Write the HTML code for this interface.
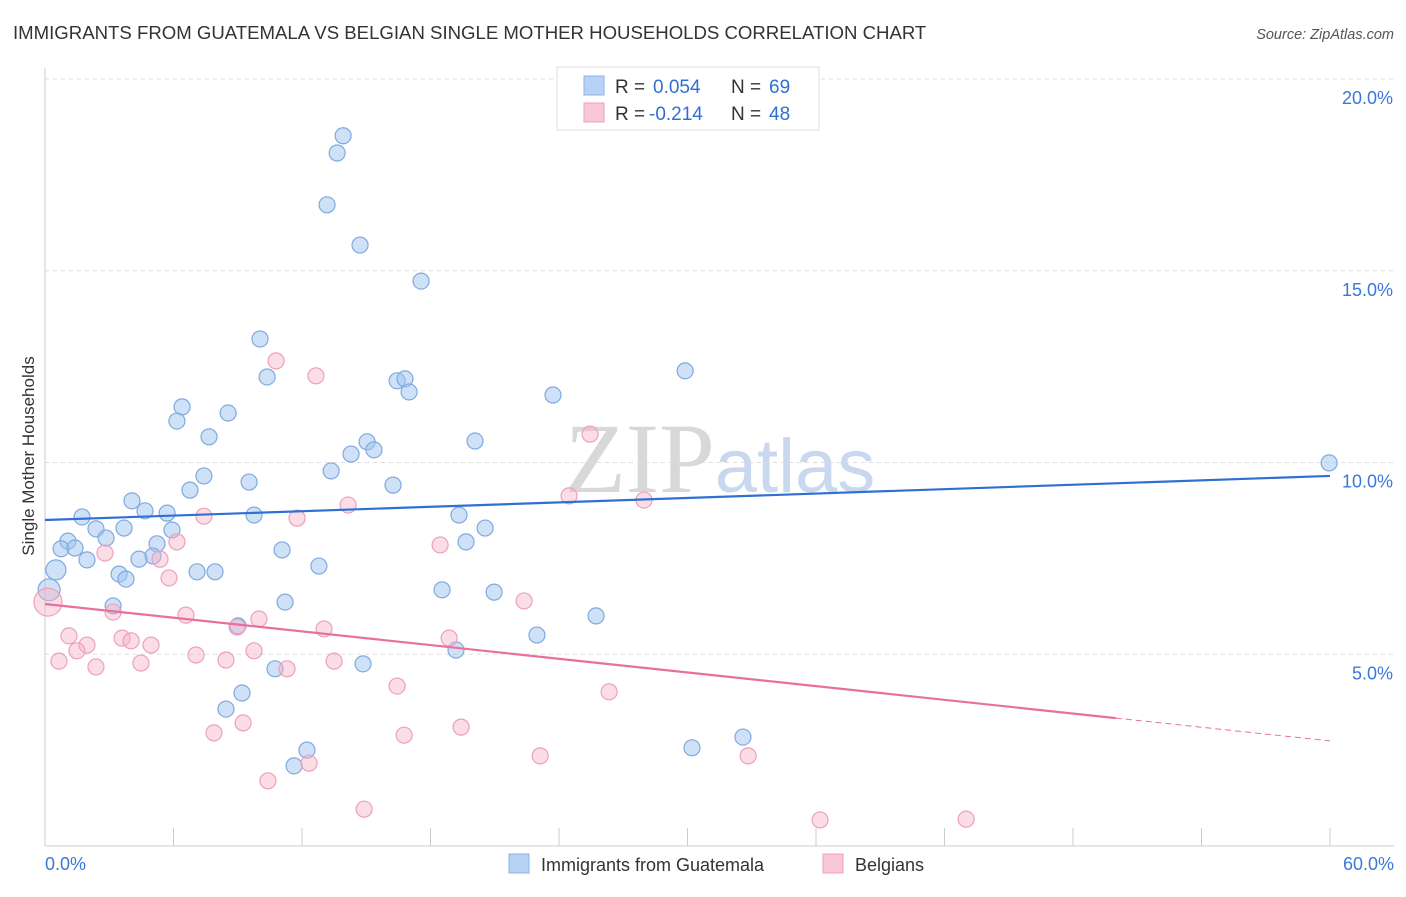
<!DOCTYPE html>
<html><head><meta charset="utf-8"><style>
body{margin:0;background:#fff;font-family:"Liberation Sans",sans-serif}
</style></head><body>
<svg id="chart" width="1406" height="892" xmlns="http://www.w3.org/2000/svg" font-family="Liberation Sans, sans-serif">
<text x="13" y="39" font-size="18.6" fill="#333">IMMIGRANTS FROM GUATEMALA VS BELGIAN SINGLE MOTHER HOUSEHOLDS CORRELATION CHART</text>
<text x="1394" y="39" font-size="14.5" fill="#555" text-anchor="end" font-style="italic">Source: ZipAtlas.com</text>
<text x="720" y="492" font-size="100" text-anchor="middle"><tspan fill="#d8d8d8" font-family="Liberation Serif, serif">ZIP</tspan><tspan fill="#c8d8ee" font-size="76">atlas</tspan></text>
<text transform="translate(34,456) rotate(-90)" font-size="17" fill="#333" text-anchor="middle">Single Mother Households</text>
<g id="grid"></g><g id="axes"></g><g id="marks"></g>
<g>
<rect x="557" y="67" width="262" height="63" fill="#fff" stroke="#ddd"/>
<rect x="584" y="76" width="20" height="19" fill="#b8d2f5" stroke="#8ab4e8"/>
<rect x="584" y="103" width="20" height="19" fill="#f8c8d6" stroke="#f0a0b8"/>
<text x="615" y="93" font-size="19" fill="#333">R =</text>
<text x="653" y="93" font-size="19" fill="#2f6fd6">0.054</text>
<text x="731" y="93" font-size="19" fill="#333">N =</text>
<text x="769" y="93" font-size="19" fill="#2f6fd6">69</text>
<text x="615" y="120" font-size="19" fill="#333">R =</text>
<text x="649" y="120" font-size="19" fill="#2f6fd6">-0.214</text>
<text x="731" y="120" font-size="19" fill="#333">N =</text>
<text x="769" y="120" font-size="19" fill="#2f6fd6">48</text>
</g>
<g>
<rect x="509" y="854" width="20" height="19" fill="#b8d2f5" stroke="#8ab4e8"/>
<text x="541" y="871" font-size="18" fill="#333">Immigrants from Guatemala</text>
<rect x="823" y="854" width="20" height="19" fill="#f8c8d6" stroke="#f0a0b8"/>
<text x="855" y="871" font-size="18" fill="#333">Belgians</text>
</g>
</svg>
<script>
const blueX=[13.64,13.92,13.17,14.71,17.56,10.04,10.37,16.44,16.81,17.00,29.89,23.72,6.40,8.55,6.16,7.66,20.08,15.04,15.36,14.29,13.36,7.42,9.53,16.25,6.77,4.06,4.67,5.70,9.76,19.33,1.73,2.38,3.69,5.93,20.55,2.85,1.07,5.23,19.66,0.75,1.40,11.07,5.04,4.39,1.96,12.79,0.51,3.46,7.10,7.94,3.78,18.54,20.97,0.19,3.18,11.21,25.73,9.01,22.97,19.19,14.85,10.74,9.20,8.45,12.23,30.21,32.59,11.63,59.96];
const blueY=[18.07,18.52,16.72,15.67,14.73,13.22,12.23,12.13,12.18,11.84,12.39,11.76,11.45,11.29,11.08,10.67,10.56,10.54,10.33,10.22,9.78,9.65,9.49,9.41,9.28,9.00,8.74,8.68,8.63,8.63,8.58,8.27,8.29,8.24,8.29,8.03,7.95,7.88,7.93,7.75,7.77,7.72,7.56,7.48,7.46,7.30,7.20,7.09,7.15,7.15,6.96,6.68,6.62,6.68,6.26,6.36,6.00,5.74,5.50,5.11,4.75,4.62,3.99,3.57,2.50,2.56,2.84,2.09,9.99];
const pinkX=[10.79,12.65,25.45,24.47,27.97,14.15,7.42,11.77,18.45,6.16,2.80,5.37,5.79,22.37,6.58,3.18,9.99,8.97,13.03,1.12,3.60,4.02,4.95,1.96,18.87,1.49,7.05,9.76,8.45,0.65,4.48,2.38,13.50,11.30,16.44,26.34,7.89,9.25,19.43,16.77,23.12,32.83,12.33,10.41,14.90,36.19,43.01,0.14];
const pinkY=[12.65,12.26,10.74,9.13,9.02,8.89,8.60,8.55,7.85,7.93,7.64,7.48,6.99,6.39,6.02,6.10,5.92,5.71,5.66,5.48,5.42,5.35,5.24,5.24,5.42,5.09,4.98,5.09,4.85,4.82,4.77,4.67,4.82,4.62,4.17,4.02,2.95,3.21,3.10,2.89,2.35,2.35,2.16,1.70,0.96,0.68,0.70,6.36];
const blueTrend=[8.50,9.65];
const pinkTrend=[6.31,2.74];
const pinkSolidEnd=50.0;
const yTicks=[5,10,15,20];
const xTickLabels=["0.0%","60.0%"];
const NS="http://www.w3.org/2000/svg";
const X0=45,X1=1330,XMAX=60,Y0=846,PPY=38.35;
const sx=v=>X0+v/XMAX*(X1-X0), sy=v=>Y0-v*PPY;
function mk(t,a,p){const e=document.createElementNS(NS,t);for(const k in a)e.setAttribute(k,a[k]);p.appendChild(e);return e;}
const grid=document.getElementById('grid'),axes=document.getElementById('axes'),marks=document.getElementById('marks');
yTicks.forEach(t=>{
 const l=mk('line',{x1:X0,x2:1394,y1:sy(t),y2:sy(t),stroke:'#ddd','stroke-dasharray':'4,4'},grid);
 
 
 const tx=mk('text',{x:1393,y:sy(t)+25,'font-size':18,fill:'#3a78d8','text-anchor':'end'},axes);
 tx.textContent=t.toFixed(1)+'%';
 
 
});
const ax=mk('line',{x1:X0,x2:X0,y1:68,y2:Y0,stroke:'#ccc'},axes);


const bx=mk('line',{x1:X0,x2:1394,y1:Y0,y2:Y0,stroke:'#ccc'},axes);


for(let i=0;i<=10;i++){const v=i*6;const t=mk('line',{x1:sx(v),x2:sx(v),y1:Y0,y2:Y0-18,stroke:'#ccc'},axes);
 
 }
[[0,'start',45],[60,'end',1394]].forEach((d,i)=>{const t=mk('text',{x:d[2],y:870,'font-size':18,fill:'#3a78d8','text-anchor':d[1]},axes);t.textContent=xTickLabels[i];
 
 });
function pts(xs,ys,fill,stroke,name,bigIdx){xs.forEach((x,i)=>{
 const r=bigIdx[i]||8;
 const c=mk('circle',{cx:sx(x),cy:sy(ys[i]),r:r,fill:fill,stroke:stroke,'stroke-width':1.2},marks);
 
 });}
pts(blueX,blueY,'rgba(160,195,240,0.5)','#7fa9e0','blue-point',{46:10,53:11});
pts(pinkX,pinkY,'rgba(246,180,200,0.45)','#eea0b8','pink-point',{47:14});
const bl=mk('line',{x1:sx(0),y1:sy(blueTrend[0]),x2:sx(60),y2:sy(blueTrend[1]),stroke:'#2f6fd6','stroke-width':2.2},marks);


const pAt=v=>pinkTrend[0]+(pinkTrend[1]-pinkTrend[0])*v/60;
const pl=mk('line',{x1:sx(0),y1:sy(pinkTrend[0]),x2:sx(pinkSolidEnd),y2:sy(pAt(pinkSolidEnd)),stroke:'#e8709a','stroke-width':2.2},marks);


const pd=mk('line',{x1:sx(pinkSolidEnd),y1:sy(pAt(pinkSolidEnd)),x2:sx(60),y2:sy(pinkTrend[1]),stroke:'#e8709a','stroke-width':1,'stroke-dasharray':'6,4'},marks);


</script>
</body></html>
